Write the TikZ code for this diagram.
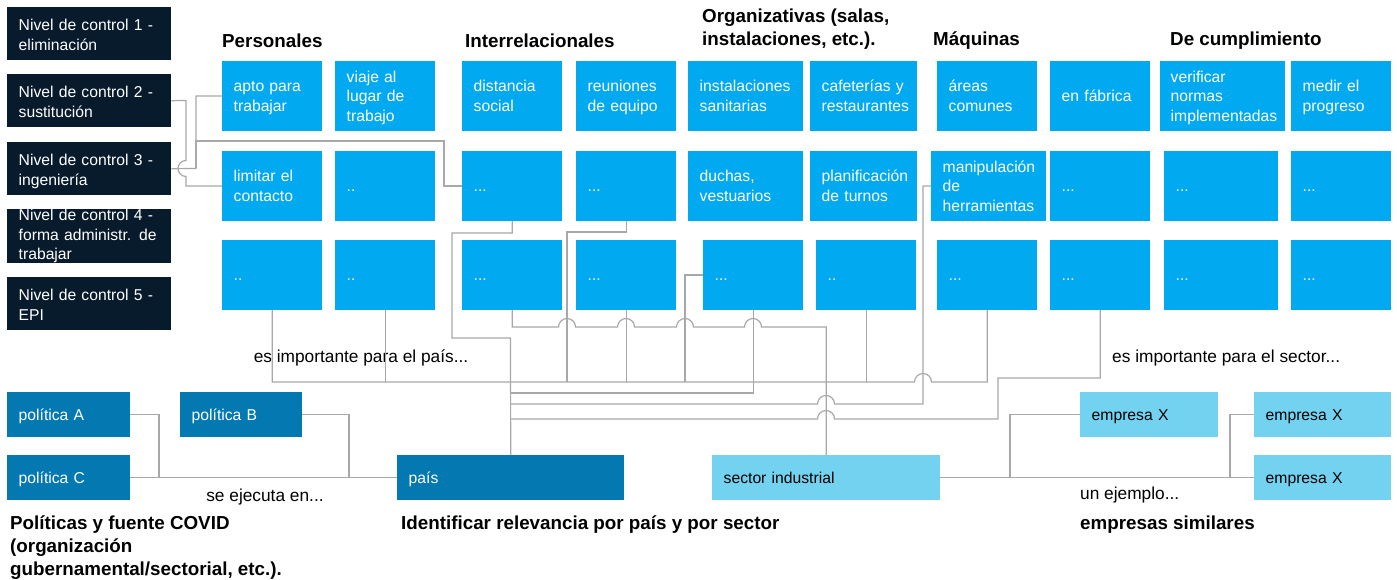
\documentclass[tikz,border=0pt]{standalone}
\usepackage{fontspec}
\setmainfont{Liberation Sans}
\usepackage{tikz}
\definecolor{ctrlnavy}{RGB}{7,27,45}
\definecolor{itemblue}{RGB}{0,169,240}
\definecolor{darkblue}{RGB}{4,120,176}
\definecolor{lightblue}{RGB}{114,210,240}
\definecolor{wiregray}{RGB}{168,168,168}
\hyphenpenalty=10000

\begin{document}
\begin{tikzpicture}[x=1pt,y=1pt]
        \tikzstyle{plainbox}=[rectangle,anchor=north west,inner xsep=11.5pt,inner ysep=0pt,align=left,
                              font=\fontsize{15.7}{19.5}\selectfont]
        \tikzstyle{box}=[plainbox,execute at end node={\rule[-4pt]{0pt}{4pt}}]
        \tikzstyle{ctrlfill}=[plainbox,fill=ctrlnavy,text=white,text width=141pt,minimum height=53pt]
        \tikzstyle{ctrl}=[ctrlfill,execute at begin node={\rule{0pt}{17.5pt}},execute at end node={\rule[-4pt]{0pt}{4pt}}]
        \tikzstyle{item}=[box,fill=itemblue,text=white,text width=77pt,minimum height=69.5pt,execute at begin node={\rule{0pt}{15.5pt}}]
        \tikzstyle{dark}=[box,fill=darkblue,text=white,minimum height=45pt,execute at begin node={\rule{0pt}{15.5pt}}]
        \tikzstyle{light}=[box,fill=lightblue,text=black,minimum height=45pt,execute at begin node={\rule{0pt}{15.5pt}}]
        \tikzstyle{head}=[anchor=west,inner sep=0pt,align=left,font=\fontsize{18.8}{23}\selectfont\bfseries]
        \tikzstyle{note}=[inner sep=0pt,font=\fontsize{17.3}{21}\selectfont]
        \tikzstyle{wire}=[draw=wiregray,line width=1.2pt]

        \useasboundingbox (0,0) rectangle (1397,-580);

        \node[ctrl]  (lvla) at (7,-7)     {Nivel de control 1 -\\eliminación};
        \node[ctrl]  (lvlb) at (7,-74)    {Nivel de control 2 -\\sustitución};
        \node[ctrl]  (lvlc) at (7,-142)   {Nivel de control 3 -\\ingeniería};
        \node[ctrlfill] (lvld) at (7,-209) {Nivel de control 4 -\\forma administr. de\\trabajar};
        \node[ctrl]  (lvle) at (7,-277)   {Nivel de control 5 -\\EPI};

        \node[head]  (hpers) at (222,-41)  {Personales};
        \node[head]  (hinter) at (465,-41) {Interrelacionales};
        \node[head]  (horg) at (702,-29.5) {Organizativas (salas,\\instalaciones, etc.).};
        \node[head]  (hmaq) at (933,-41)   {Máquinas};
        \node[head]  (hcump) at (1170,-41) {De cumplimiento};

        \node[item]  (apto) at (222,-61)   {apto para\\trabajar};
        \node[item]  (viaje) at (335,-61)  {viaje al\\lugar de\\trabajo};
        \node[item]  (dist) at (462,-61)   {distancia\\social};
        \node[item]  (reun) at (576,-61)   {reuniones\\de equipo};
        \node[item,text width=92pt] (inst) at (688,-61) {instalaciones\\sanitarias};
        \node[item,text width=84pt] (cafe) at (810,-61) {cafeterías y\\restaurantes};
        \node[item]  (areas) at (937,-61)  {áreas\\comunes};
        \node[item]  (fabr) at (1050,-61)  {en fábrica};
        \node[item,text width=104pt,inner xsep=10.5pt] (verif) at (1160,-61) {verificar\\normas\\implementadas};
        \node[item]  (medir) at (1291,-61) {medir el\\progreso};

        \node[item]  (limit) at (222,-151) {limitar el\\contacto};
        \node[item]  (ra) at (335,-151)    {..};
        \node[item]  (rb) at (462,-151)    {...};
        \node[item]  (rc) at (576,-151)    {...};
        \node[item,text width=92pt] (duch) at (688,-151) {duchas,\\vestuarios};
        \node[item,text width=84pt] (plan) at (810,-151) {planificación\\de turnos};
        \node[item,text width=92pt] (manip) at (931,-151) {manipulación\\de\\herramientas};
        \node[item]  (rd) at (1050,-151)   {...};
        \node[item,text width=91pt] (re) at (1164,-151) {...};
        \node[item]  (rf) at (1291,-151)   {...};

        \node[item]  (sa) at (222,-240)    {..};
        \node[item]  (sb) at (335,-240)    {..};
        \node[item]  (sc) at (462,-240)    {...};
        \node[item]  (sd) at (576,-240)    {...};
        \node[item]  (se) at (703,-240)    {...};
        \node[item]  (sf) at (816,-240)    {..};
        \node[item]  (sg) at (937,-240)    {...};
        \node[item]  (sh) at (1050,-240)   {...};
        \node[item,text width=91pt] (si) at (1164,-240) {...};
        \node[item]  (sj) at (1291,-240)   {...};

        \node[dark,text width=100pt]  (pola) at (7,-392)     {política A};
        \node[dark,text width=99pt]   (polb) at (180,-392)   {política B};
        \node[dark,text width=100pt]  (polc) at (7,-455)     {política C};
        \node[dark,text width=204pt]  (pais) at (397,-455)   {país};
        \node[light,text width=205pt] (sector) at (712,-455) {sector industrial};
        \node[light,text width=115pt] (empa) at (1080,-392)  {empresa X};
        \node[light,text width=114pt] (empb) at (1254,-392)  {empresa X};
        \node[light,text width=114pt] (empc) at (1254,-455)  {empresa X};

        \node[note]  (npais) at (361,-358)             {es importante para el país...};
        \node[note,anchor=west] (nsect) at (1112,-358) {es importante para el sector...};
        \node[note]  (nejec) at (265,-497)             {se ejecuta en...};
        \node[note,anchor=west] (nejem) at (1080,-495) {un ejemplo...};
        \node[head]  (tpol) at (10,-548)   {Políticas y fuente COVID\\(organización\\gubernamental/sectorial, etc.).};
        \node[head]  (tiden) at (401,-525) {Identificar relevancia por país y por sector};
        \node[head]  (tempr) at (1080,-525) {empresas similares};

        \coordinate (busp) at (0,-382); % bus pais
        \coordinate (buss) at (0,-327); % bus sector

        % niveles de control
        \draw[wire] (lvlb.east) -- (186,-100.5) -- (186,-160.5) arc[start angle=90,end angle=270,radius=8] -- (186,-186) -- (limit.west);
        \draw[wire] (lvlc.east) -- (196,-168.5) |- (apto.west);
        \draw[wire] (196,-168.5) |- (444,-141) |- (rb.west);

        % hacia pais
        \draw[wire] (rb.south) |- (452,-233) |- (510.5,-338) -- (pais.north);
        \draw[wire] (rc.south) |- (567,-232) -- (567,-382);
        \draw[wire] (sa.south) |- (914.5,-382) arc[start angle=180,end angle=0,radius=8.5] -- (sg.south |- busp) -- (sg.south);
        \draw[wire] (sb.south) -- (sb.south |- busp);
        \draw[wire] (sd.south) -- (sd.south |- busp);
        \draw[wire] (sf.south) -- (sf.south |- busp);
        \draw[wire] (se.west) -| (685,-382);
        \draw[wire] (se.south) |- (510.5,-393);
        \draw[wire] (manip.west) -| (923,-404) -- (834.5,-404) arc[start angle=0,end angle=180,radius=8.5] -- (510.5,-404);
        \draw[wire] (sh.south) |- (998,-378) |- (834.5,-419) arc[start angle=0,end angle=180,radius=8.5] -- (510.5,-419);

        % hacia sector
        \draw[wire] (sc.south) |- (558.5,-327) arc[start angle=180,end angle=0,radius=8.5]
                    -- (617.5,-327) arc[start angle=180,end angle=0,radius=8.5]
                    -- (676.5,-327) arc[start angle=180,end angle=0,radius=8.5]
                    -- (744.5,-327) arc[start angle=180,end angle=0,radius=8.5]
                    -- (sector.north |- buss) -- (sector.north);

        % politicas
        \draw[wire] (polc.east) -- (pais.west);
        \draw[wire] (pola.east) -| (159,-477.5);
        \draw[wire] (polb.east) -| (349,-477.5);

        % empresas
        \draw[wire] (sector.east) -- (empc.west);
        \draw[wire] (1010,-477.5) |- (empa.west);
        \draw[wire] (1230,-477.5) |- (empb.west);
\end{tikzpicture}
\end{document}
